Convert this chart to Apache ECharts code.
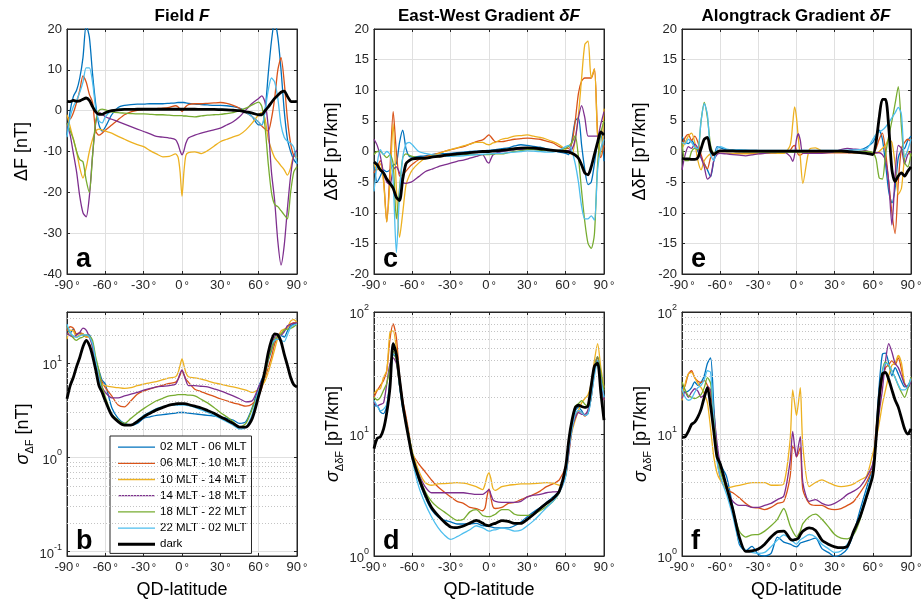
<!DOCTYPE html>
<html><head><meta charset="utf-8">
<script src="https://cdn.jsdelivr.net/npm/echarts@6/dist/echarts.min.js"></script>
<style>html,body{margin:0;padding:0;background:#fff}#c{width:923px;height:602px}</style>
</head><body><div id="c"></div>
<script>
// ---------- shared x values (QD-latitude, degrees) ----------
const LAT = [-90,-87.5,-85,-82.5,-80,-77.5,-75,-72.5,-70,-67.5,-65,-62.5,-60,
 -55,-50,-45,-40,-35,-30,-25,-20,-15,-10,-5,
 -3,-1.5,0,1.5,3,
 5,10,15,20,25,30,35,40,45,50,55,
 60,62.5,65,67.5,70,72.5,75,77.5,80,82.5,85,87.5,90];

const NAMES = ['02 MLT - 06 MLT','06 MLT - 10 MLT','10 MLT - 14 MLT','14 MLT - 18 MLT','18 MLT - 22 MLT','22 MLT - 02 MLT','dark'];
const X_TICKS = [-90,-60,-30,0,30,60,90];

// ---------- panel a: Delta F [nT] ----------
const a_0206 = [-6,0,3.5,5,8,13,21,18,9,1.5,-3.5,-5,-4, -1,0.8,1.3,1.5,1.6,1.6,1.7,1.7,1.7,1.8,1.9, 2.0,2.0,2.0,2.0,1.9, 1.8,1.6,1.5,1.4,1.3,1.3,1.2,1.0,0.6,-0.2,-1.5, -3.5,-3.5,0,9,17,22,18,10,0,-7,-10,-12,-13];
const a_0610 = [-1.5,-2,-0.5,2,5,8.5,7,4,2,-5,-6,-5.5,-4.8, -3.5,-2.2,-1,-0.3,0.1,0.3,0.4,0.5,0.6,0.8,1.2, 0.9,0.3,-0.2,0.4,1.0, 1.5,1.7,1.7,1.8,1.9,2.0,1.8,1.3,0.6,-0.5,-1.5, -2.8,-3.8,-4.5,-5,-2,3,10,13,7,-2,-8,-11,-11.5];
const a_1014 = [-1,-4,-7,-10,-14,-16.5,-14,-10,-7,-5,-4.5,-4.7,-5, -5.5,-6.3,-7,-7.7,-8.3,-8.8,-9.8,-10.6,-11.3,-11.2,-10.6, -11.5,-15,-21,-15,-11, -10.3,-10.1,-10.5,-9.8,-8.7,-7.6,-7,-6.4,-5.9,-4.7,-3, -1,-0.5,-2,-7,-9.5,-11.5,-12.5,-13.5,-14.5,-15.8,-14,-11,-11.5];
const a_1418 = [-3,-6,-10.5,-15,-21,-25,-26,-21,-11,-3,-0.5,-0.8,-1.5, -2.1,-2.7,-3.3,-3.9,-4.5,-5.1,-5.7,-6.3,-6.5,-6.7,-7.1, -8.3,-9.8,-10.8,-9.8,-8, -6.7,-6,-5.5,-5.1,-4.7,-4.3,-3.5,-2.7,-1.5,0.2,1.8, 3,3.6,2,-4,-15,-22,-32,-37.8,-33,-24,-16,-11,-9.6];
const a_1822 = [-3,-5,-7,-10,-12,-12.5,-17,-20,-11,-2.5,0,0.4,0.2, -0.3,-0.5,-0.6,-0.7,-0.8,-0.8,-0.9,-1,-1,-1.1,-1.2, -1.2,-1.2,-1.2,-1.3,-1.3, -1.4,-1.5,-1.3,-1.1,-1,-0.9,-0.7,-0.5,0,0.6,1.4, 2.1,1,-4,-13,-20,-23,-23.5,-24.5,-25.5,-26.5,-20,-15,-13.7];
const a_2202 = [-6.5,-1.5,1,2.5,4.5,7,10.5,10.5,7,0.5,-2.5,-3,-1.5, 0,0.4,0.5,0.5,0.5,0.5,0.5,0.5,0.5,0.5,0.5, 0.5,0.5,0.5,0.5,0.5, 0.5,0.5,0.5,0.5,0.4,0.4,0.3,0.2,0,-0.5,-1.5, -2.8,-3.5,0,5,8,7,3,-3.5,-6.5,-7.5,-8,-9,-13];
const a_dark = [2.3,2.2,2.5,2.3,2.4,2.8,3.1,2.5,1,-0.3,-0.9,-0.9,-0.5, 0,0.2,0.3,0.3,0.35,0.35,0.35,0.35,0.35,0.35,0.35, 0.35,0.35,0.35,0.35,0.35, 0.35,0.35,0.3,0.3,0.3,0.25,0.2,0.1,0,-0.3,-0.6, -1,-1,0,0.9,2,3,3.8,4.5,4.8,3.5,2.3,2.2,2.3];

// ---------- panel b: sigma Delta F [nT] (log) ----------
const b_0206 = [23,21,23,20,21,20,19.5,20,16,10.7,8.4,6.6,6, 3.4,2.6,2.3,2.2,2.3,2.6,2.7,2.8,2.85,2.9,2.95, 3.0,3.0,3.0,3.0,2.98, 2.95,2.9,2.85,2.8,2.75,2.7,2.6,2.5,2.3,2.4,3.4, 5.6,6.8,8,10.7,13.6,17.4,19,19.6,19,22,25,26,27];
const b_0610 = [22,24.4,23.5,20.5,21,20.5,19,19.5,15,9.1,7.5,6.3,5.5, 4.5,3.6,3.45,4.0,4.7,5.1,5.35,5.6,5.85,6.1,6.3, 6.8,7.5,8.3,7.6,6.8, 6.3,5.3,5.0,4.7,4.45,4.2,4.0,3.8,3.65,3.5,3.7, 4.5,5.5,7,9,11.6,16,19,20.5,22,24,26,27,26.5];
const b_1014 = [18,22.5,22,19,20,20.5,19,19,15,10,7.1,6,5.8, 5.6,5.5,5.4,5.5,5.8,6.0,6.2,6.4,6.7,7,7.2, 8,9.5,11.1,9.5,8, 7.2,7,6.8,6.5,6.2,6,5.8,5.6,5.4,5.2,4.9, 5.3,5.8,6.5,8,10.5,14,18.5,22,23,24,28,29,27];
const b_1418 = [21,19.6,19,20,21.3,23.6,22.5,19,15,10,7.1,5.6,4.9, 4.3,4.3,4.5,4.7,4.9,5.2,5.4,5.6,5.7,5.8,6, 6.8,7.8,8.5,7.6,6.6, 5.8,5.8,5.7,5.6,5.35,5.1,4.8,4.5,4.2,3.9,4.0, 5.6,6.5,8,11,15,19,20.5,20,21.5,25,26,26.5,27];
const b_1822 = [25,21,18.5,17.5,18.5,19,20,19.5,17.5,11.6,8.4,5.6,4.4, 2.9,2.5,2.3,2.6,2.95,3.3,3.65,4.0,4.25,4.5,4.6, 4.65,4.65,4.65,4.65,4.63, 4.6,4.5,4.15,3.8,3.4,3.0,2.7,2.4,2.1,2.3,3.3, 5,6,7.5,11,14,18,19.6,20.5,22.5,23,23.5,24.5,26];
const b_2202 = [26,21,19.5,18.8,19.5,20,20,19,16,10.5,7,4.8,4.0, 2.9,2.4,2.2,2.2,2.45,2.8,3.05,3.3,3.45,3.6,3.6, 3.6,3.6,3.6,3.6,3.58, 3.55,3.4,3.2,3.0,2.8,2.6,2.4,2.2,2.0,2.1,2.9, 5.1,6,8.5,13,16,17.5,18,17.5,17,20,24,25.5,26];
const b_dark = [4.2,5.8,7.1,9.2,11.5,15,17.5,15.5,12,8.5,5.8,4.9,4, 2.8,2.4,2.2,2.2,2.4,2.7,2.95,3.2,3.4,3.6,3.7, 3.72,3.73,3.73,3.72,3.7, 3.65,3.5,3.35,3.15,2.95,2.7,2.5,2.3,2.1,2.1,2.6, 4.5,6,8.5,13,17.5,20.5,20,17,12.5,9.5,7.1,5.9,5.6];

// ---------- panel c: East-West gradient [pT/km] ----------
const c_0206 = [-2,-5,-4,-3,-3.3,-3,-2.2,-2,1.5,3.5,0.5,-0.8,-0.9, -0.8,-0.7,-0.5,-0.4,-0.35,-0.3,-0.2,-0.1,0,0.05,0.1, 0.15,0.18,0.2,0.22,0.25, 0.3,0.45,0.6,0.9,1.1,1.0,0.85,0.7,0.45,0.2,-0.1, -0.3,-0.5,2,5,5.5,1,-3,-5.4,-5,-2,1.5,2.7,-1.6];
const c_0610 = [-3.5,-2.5,-1.5,-4.5,-11.5,-3,6.5,0,-4,-3.8,-3.2,-2.6,-2.1, -1.3,-0.9,-0.6,-0.3,0,0.3,0.55,0.8,1.2,1.6,1.9, 2.2,2.5,2.7,2.4,2.0, 1.6,1.6,1.8,2,2.1,2.2,2.1,2,1.7,1.4,0.8, 0.5,0.5,1.5,5,9.5,11.5,12,12,12,13.5,3,-1,1];
const c_1014 = [-2,-3,-2,-5,-11.5,-5,4.5,-6,-14,-10,-5.5,-4,-3, -1.9,-1.1,-0.7,-0.4,0,0.3,0.6,0.9,1.2,1.5,1.5, 1.3,1.15,1.1,1.2,1.4, 1.5,2,2.2,2.5,2.6,2.7,2.5,2.3,2,1.6,1.1, 0.3,0,-0.5,2,6,12,17.5,18,12,13.5,2.5,-0.5,7];
const c_1418 = [2,1,-0.8,-3.5,-5,-5.4,-3,-2.5,-3.5,-5,-5.2,-5.1,-4.9, -4.1,-3.3,-2.9,-2.5,-2.2,-1.9,-1.6,-1.4,-1.1,-0.8,-0.5, -1.1,-1.7,-1.9,-1.2,-0.6, -0.3,0,0.15,0.3,0.35,0.4,0.35,0.3,0.2,0.15,0.1, 0,0.2,0.4,2,5.5,7.5,5.5,2.5,2.5,2.5,2.5,4.5,6.5];
const c_1822 = [-0.5,0,0,-0.5,-1,-0.5,-2,-11,-6,-1,-0.4,-0.6,-0.8, -1,-1.1,-0.95,-0.85,-0.75,-0.7,-0.6,-0.55,-0.5,-0.5,-0.5, -0.5,-0.5,-0.5,-0.48,-0.45, -0.4,-0.4,-0.2,0,0.15,0.3,0.3,0.2,0.15,0.1,0.2, 0.5,0.9,1.5,2.6,-1,-6.5,-11.5,-15,-15.8,-13.5,-2,3,5];
const c_2202 = [-6.5,-2,0.3,-0.5,0,-0.5,-5,-16.5,-7,-1,1.2,1.5,1.1, 0,-0.3,-0.5,-0.65,-0.75,-0.8,-0.75,-0.7,-0.6,-0.5,-0.45, -0.42,-0.4,-0.4,-0.38,-0.35, -0.3,-0.3,-0.2,-0.1,0,0.1,0.05,0,-0.1,-0.1,0.2, 0.8,1,0,-2,-5,-9,-11,-11,-10.5,-11.2,-3,0.5,2];
const c_dark = [-1.7,-2.2,-3,-3.5,-4.5,-5.2,-6,-7.5,-8,-4.5,-2,-1.5,-1.2, -1.1,-1.1,-0.9,-0.8,-0.65,-0.5,-0.4,-0.3,-0.2,-0.1,0, 0,0,0,0.03,0.06, 0.1,0.2,0.3,0.45,0.55,0.6,0.55,0.45,0.3,0.2,0.1, 0,-0.1,-0.3,-0.6,-1.1,-2.2,-3.5,-3.8,-2.5,-0.5,1.5,3.2,2.7];

// ---------- panel d: sigma East-West gradient [pT/km] (log) ----------
const d_0206 = [17,17,15.2,14.7,17,28,45,42,25,16.5,13,9.5,6.5, 4.2,3.05,2.4,2.1,1.97,1.9,1.83,1.83,1.83,1.85,1.77, 1.76,1.75,1.75,1.73,1.72, 1.7,1.7,1.7,1.77,1.9,2.1,2.3,2.5,2.75,3.05,3.4, 4.8,7.5,12,15.5,16.5,15.5,14.2,14.7,20,33,40,28,20];
const d_0610 = [20,22.8,25,27.5,33,60,80,62,30,19,14,10,6.9, 5.7,4.9,4.2,3.7,3.35,3.05,2.8,2.7,2.5,2.45,2.35, 2.5,3.1,3.55,3.0,2.55, 2.45,2.5,2.7,2.75,2.9,3.05,3.2,3.4,3.7,3.9,4.2, 5.5,9,12,14.2,15.5,15,14,15.5,20,32,42,28,19];
const d_1014 = [21.4,23,23.5,29.3,33,68,70,50,28,17,13,9.5,7.2, 5.0,4.0,3.8,3.9,3.92,3.95,4.0,3.95,3.85,3.7,3.5, 3.9,4.5,4.8,4.3,3.6, 3.45,3.7,3.8,3.85,3.9,3.9,3.92,3.95,4.0,3.95,3.8, 4.5,7,10.5,13,15.6,18,19.5,21,26,40,55,35,24];
const d_1418 = [18.3,17,17.5,18,25.8,37.7,42,38,25,17,13,9.5,6.5, 4.7,3.7,3.3,3.3,3.3,3.3,3.3,3.3,3.25,3.2,3.2, 3.3,3.4,3.5,3.2,2.9, 2.8,2.75,2.75,2.75,2.8,3.05,3.15,3.2,3.3,3.35,3.4, 4.6,7,11,13.5,15,14.5,14.5,15.8,23,35,43,28,18.9];
const d_1822 = [20,19,20,22.8,26,35,48,40,25,17,13,9.6,7, 4.6,3.4,2.8,2.5,2.3,2.1,1.96,2.0,2.3,2.4,2.15, 2.12,2.1,2.1,2.11,2.15, 2.2,2.4,2.4,2.2,2.15,2.15,2.2,2.35,2.55,2.8,3.3, 5,9,13,17,17.7,18.8,17.5,16.8,24,35,43,32,22.8];
const d_2202 = [18.9,17,15.5,16,17.5,25,45,45,25,16,12.2,8.8,6.1, 3.7,2.7,2.1,1.72,1.49,1.37,1.44,1.54,1.64,1.77,1.7, 1.66,1.62,1.6,1.61,1.63, 1.64,1.7,1.66,1.6,1.63,1.77,1.95,2.2,2.5,2.8,3.3, 4.5,7.5,11,14.5,15.6,15,14.2,14.7,20,30,40,28,20];
const d_dark = [7.6,9.2,9.5,11,15,24,55,45,28,17.5,12.2,8.8,6.5, 4.4,3.2,2.5,2.15,1.9,1.73,1.71,1.76,1.86,1.96,1.86, 1.8,1.78,1.77,1.8,1.83, 1.85,1.95,1.92,1.85,1.85,2.0,2.2,2.45,2.7,2.95,3.4, 5.4,9,13,16.5,17.2,16.8,16.5,17,25,36,38,22,13];

// ---------- panel e: Alongtrack gradient [pT/km] ----------
const e_0206 = [2.4,1.6,1.3,1.8,1,0,-1,-2,-3,-4.1,-1.5,0.8,0.6, 0.3,0.2,0.2,0.2,0.2,0.15,0.1,0.1,0.05,0,0, -0.05,-0.1,-0.1,-0.05,0, 0,0.05,0.1,0.1,0.1,0.1,0.15,0.2,0.3,0.3,0.7, 1.5,2.5,3.5,2,-2,-6.5,-8.4,-6,-1,0.2,0.5,1.8,2.5];
const e_0610 = [1,2.3,2.8,1.8,2.5,1.5,-0.5,-2,-2.8,-1,-0.5,-0.3,-0.3, -0.3,-0.3,-0.3,-0.3,-0.3,-0.3,-0.25,-0.2,-0.2,-0.1,0.2, 0.8,1.0,0.2,-0.5,-0.6, -0.3,-0.2,-0.2,-0.2,-0.2,-0.2,-0.2,-0.2,-0.2,-0.25,-0.3, -0.3,0.5,2,3,0,-5,-10,-13.4,-5,0.5,1.5,2,1.6];
const e_1014 = [0.5,1.5,2.5,3,1.5,-1.5,-3,-1.5,-0.8,-0.4,-0.3,-0.3,-0.3, -0.3,-0.35,-0.4,-0.4,-0.4,-0.35,-0.3,-0.3,-0.3,-0.3,1, 4.5,7.3,5.5,2,-1, -5.2,0.3,0.6,0.1,0,-0.1,-0.1,-0.1,-0.2,-0.2,-0.2, -0.3,-0.3,0,0.5,1,2,1.5,-2,-7,-6,-1,0,-0.8];
const e_1418 = [-3,-0.5,0.8,0.5,1.2,0.5,-1,-2.5,-4.5,-4,-1.5,-0.5,-0.3, -0.4,-0.5,-0.6,-0.7,-0.55,-0.4,-0.3,-0.2,-0.15,-0.1,-0.8, -1.6,-0.5,2,2.9,1.8, -0.3,-0.3,-0.3,-0.3,-0.2,0,0.3,0.5,0.4,0.3,0.1, -0.2,-0.2,-0.2,-0.5,-1.5,-5,-12,-4,1,0.5,-2,-0.5,0];
const e_1822 = [1.4,-1.5,-1.5,0,0.5,0.3,5,8,5.5,1,-0.3,0.1,0.1, 0,0,-0.05,-0.1,-0.1,-0.1,-0.1,-0.1,-0.1,-0.1,-0.1, -0.1,-0.1,-0.1,-0.1,-0.1, -0.1,-0.05,0,0,0,0,0,0,0,0,0, -0.2,-1.2,-4.3,-4.5,-0.5,2.5,5,7.8,10.6,4,-1.8,-2.5,-0.3];
const e_2202 = [1.5,1.2,2,1.5,0.7,0.5,5,7.8,6,-0.5,-1.5,0.3,0.8, 0.4,0.3,0.3,0.25,0.2,0.2,0.2,0.2,0.2,0.2,0.2, 0.2,0.2,0.2,0.2,0.2, 0.2,0.2,0.2,0.2,0.2,0.2,0.2,0.2,0.25,0.3,0.4, 2,2.8,3.2,3.5,4,4.7,5.5,6.3,7.2,6,-1,0.3,2];
const e_dark = [-1.1,-1.2,-1.2,-1.3,-1.3,-1,0.5,2,2.3,0.2,-0.5,-0.1,0.1, 0.1,0.1,0.05,0.05,0.05,0.05,0.05,0.05,0.05,0.05,0.05, 0.05,0.05,0.05,0.05,0.05, 0.05,0.05,0.05,0.05,0.05,0.05,0.05,0,-0.1,-0.2,-0.3, -0.5,1.5,5.5,8.5,8.5,4,-3,-4.9,-4,-3.5,-4,-3.2,-2.5];

// ---------- panel f: sigma Alongtrack gradient [pT/km] (log) ----------
const f_0206 = [24.3,22,22.5,24,26.7,25,26.5,30,38,42,17,7.5,5.7, 4.5,2.5,1.25,1.1,1.2,1.03,1.0,1.05,1.43,1.3,1.25, 1.22,1.2,1.19,1.22,1.28, 1.3,1.35,1.4,1.15,1.07,0.99,1.03,1.15,1.55,2.4,3.6, 5.5,10,25,45,46,38,30,35,31,27,24.3,25,27.5];
const f_0610 = [22,25,31,33,29,27,26.5,27.5,25,22,13,6.5,4.4, 3.5,3.3,3.0,2.7,2.5,2.48,2.4,2.5,2.7,2.8,4.5, 8,7.5,6.5,7,7.8, 3.5,2.7,2.6,2.6,2.45,2.4,2.45,2.6,2.8,3.3,4.0, 5.5,11,18,28,35,37,40,37,42,34,25.8,24,29];
const f_1014 = [18.9,25.8,31,32,29,26,24,21.4,18,11,6.5,4.8,4.2, 3.6,3.7,3.8,3.9,4.0,4.0,4.0,3.8,3.8,3.9,9, 23,18,14.2,18,24, 8,3.7,4.0,4.2,4.0,3.8,3.7,3.75,3.9,4.2,4.5, 6.9,9,12.2,17.5,23,30,36.6,38,44,38,26,24,28];
const f_1418 = [19.5,22,20,22,23.5,22.5,20,21,24.3,23,15,8.5,5.7, 3.6,2.8,2.6,2.6,2.5,2.5,2.6,2.7,2.9,3.1,6, 10.5,8,6.5,8,9.5, 4,2.8,2.9,2.7,2.6,2.7,2.9,3.2,3.4,3.7,4.4, 5.7,9,15,23,40,55,47,38,35,30,25.5,24,27];
const f_1822 = [26.7,23,20.5,20,19.5,20,21,24,29,26,14,7,5, 3.5,2.4,1.6,1.43,1.49,1.5,1.6,1.77,2.0,2.45,1.77, 1.6,1.5,1.43,1.5,1.6, 1.84,2.1,2.2,2.0,1.74,1.5,1.4,1.38,1.5,2.0,3.2, 4.5,9,20,33,39,36,33,29,25,22,20,23.5,29.3];
const f_2202 = [23.5,20,18.9,19.5,22,24,25,28,33,32,13,6,4.5, 3.2,2.1,1.3,1.12,1.07,1.05,1.07,1.19,1.35,1.49,1.38, 1.32,1.28,1.25,1.3,1.36, 1.4,1.5,1.43,1.25,1.15,1.07,1.1,1.25,1.55,2.2,3.3, 5,9.5,22,32,38,37,33,29,25.3,23,23,24.5,28.5];
const f_dark = [9.4,9.5,10.5,12,12.5,13.8,16,20,24,17,10.5,6.5,5.7, 3.7,2.4,1.43,1.09,1.1,1.14,1.25,1.43,1.58,1.6,1.38, 1.35,1.36,1.37,1.4,1.5, 1.6,1.7,1.62,1.35,1.25,1.19,1.17,1.2,1.6,2.1,3.05, 4.6,9,20,31,32,28,23,19,16.6,13.5,11,10,11];

// minor log grid positions
const MINOR_B = [0.2,0.3,0.4,0.5,0.6,0.7,0.8,0.9,2,3,4,5,6,7,8,9,20,30];
const MINOR_DF = [2,3,4,5,6,7,8,9,20,30,40,50,60,70,80,90];

// ---------- styling ----------
const FONT = '"Liberation Sans", Arial, Helvetica, sans-serif';
const INK = '#262626';
const GRIDC = '#e0e0e0';
const MINORC = '#c4c4c4';
const COLORS = ['#0072BD','#D95319','#EDB120','#7E2F8E','#77AC30','#4DBEEE','#000000'];
const WIDTHS = [1.3,1.3,1.3,1.3,1.3,1.3,2.8];

const PANELS = [
  {id:'a', left:67, top:29, width:230, height:245, log:false, min:-40, max:20, interval:10,
   yname:'ΔF [nT]', nameGap:36, series:[a_0206,a_0610,a_1014,a_1418,a_1822,a_2202,a_dark]},
  {id:'c', left:374, top:29, width:230, height:245, log:false, min:-20, max:20, interval:5,
   yname:'ΔδF [pT/km]', nameGap:33, series:[c_0206,c_0610,c_1014,c_1418,c_1822,c_2202,c_dark]},
  {id:'e', left:682, top:29, width:229, height:245, log:false, min:-20, max:20, interval:5,
   yname:'ΔδF [pT/km]', nameGap:33, series:[e_0206,e_0610,e_1014,e_1418,e_1822,e_2202,e_dark]},
  {id:'b', left:67, top:312, width:230, height:244, log:true, min:0.09, max:35, minor:MINOR_B, bottom:true,
   yname:'{s|σ}{sub|ΔF}{m| [nT]}', nameGap:30, series:[b_0206,b_0610,b_1014,b_1418,b_1822,b_2202,b_dark]},
  {id:'d', left:374, top:312, width:230, height:244, log:true, min:1, max:100, minor:MINOR_DF, bottom:true,
   yname:'{s|σ}{sub|ΔδF}{m| [pT/km]}', nameGap:28, series:[d_0206,d_0610,d_1014,d_1418,d_1822,d_2202,d_dark]},
  {id:'f', left:682, top:312, width:229, height:244, log:true, min:1, max:100, minor:MINOR_DF, bottom:true,
   yname:'{s|σ}{sub|ΔδF}{m| [pT/km]}', nameGap:28, series:[f_0206,f_0610,f_1014,f_1418,f_1822,f_2202,f_dark]}
];

function logLabel(v){
  const e = Math.round(Math.log10(v));
  if (Math.abs(v/Math.pow(10,e) - 1) > 1e-6) return '';
  return '{b|10}{e|' + e + '}';
}
const nameRich = {
  s:{fontSize:18, fontStyle:'italic', fontFamily:FONT, color:'#000', lineHeight:26, verticalAlign:'middle'},
  sub:{fontSize:11, fontFamily:FONT, color:'#000', lineHeight:12, verticalAlign:'bottom'},
  m:{fontSize:18, fontFamily:FONT, color:'#000', lineHeight:26, verticalAlign:'middle'}
};

const grids=[], xAxes=[], yAxes=[], series=[], graphics=[];
PANELS.forEach((p,i)=>{
  grids.push({left:p.left, top:p.top, width:p.width, height:p.height, show:true,
    borderColor:INK, borderWidth:1, backgroundColor:'#fff', containLabel:false, outerBoundsMode:'none'});
  xAxes.push({gridIndex:i, type:'value', min:-90, max:90, interval:30, position:'bottom',
    name: p.bottom ? 'QD-latitude' : '', nameLocation:'middle', nameGap:25,
    nameTextStyle:{fontSize:18, color:'#000', fontFamily:FONT},
    axisLine:{show:true, onZero:false, lineStyle:{color:INK, width:1}},
    axisTick:{show:true, inside:true, length:3, lineStyle:{color:INK}},
    axisLabel:{margin:5, color:INK, fontFamily:FONT,
      formatter:v=>'{n|'+v+'}{d|°}',
      rich:{n:{fontSize:13, fontFamily:FONT, color:INK}, d:{fontSize:11, fontFamily:FONT, color:INK, padding:[0,0,0,2]}}},
    splitLine:{show:true, lineStyle:{color:GRIDC, width:1}}});
  xAxes.push({gridIndex:i, type:'value', min:-90, max:90, interval:30, position:'top',
    axisLine:{show:true, onZero:false, lineStyle:{color:INK}},
    axisTick:{show:true, inside:true, length:3, lineStyle:{color:INK}},
    axisLabel:{show:false}, splitLine:{show:false}});
  const yBase = p.log
    ? {type:'log', logBase:10, min:p.min, max:p.max}
    : {type:'value', min:p.min, max:p.max, interval:p.interval};
  yAxes.push(Object.assign({gridIndex:i, position:'left',
    name:p.yname, nameLocation:'middle', nameGap:p.nameGap, nameRotate:90,
    nameTextStyle:{fontSize:18, color:'#000', fontFamily:FONT, rich:nameRich},
    axisLine:{show:true, onZero:false, lineStyle:{color:INK, width:1}},
    axisTick:{show:true, inside:true, length:3, lineStyle:{color:INK}},
    axisLabel: p.log
      ? {margin:5, formatter:logLabel, rich:{
          b:{fontSize:13, fontFamily:FONT, color:INK, lineHeight:18, verticalAlign:'bottom'},
          e:{fontSize:9, fontFamily:FONT, color:INK, lineHeight:18, verticalAlign:'top'}}}
      : {margin:5, fontSize:13, color:INK, fontFamily:FONT},
    splitLine:{show:true, lineStyle:{color:GRIDC, width:1}}}, yBase));
  yAxes.push(Object.assign({gridIndex:i, position:'right',
    axisLine:{show:true, onZero:false, lineStyle:{color:INK}},
    axisTick:{show:true, inside:true, length:3, lineStyle:{color:INK}},
    axisLabel:{show:false}, splitLine:{show:false}}, yBase));

  if (p.log) {
    series.push({type:'line', name:'minor-'+p.id, xAxisIndex:2*i, yAxisIndex:2*i, data:[], z:1,
      silent:true, animation:false,
      markLine:{silent:true, symbol:['none','none'], label:{show:false}, animation:false,
        lineStyle:{color:MINORC, type:[1,2], width:1},
        emphasis:{disabled:true},
        data:p.minor.map(v=>({yAxis:v}))}});
  }
  p.series.forEach((arr,j)=>{
    series.push({type:'line', name:NAMES[j], xAxisIndex:2*i, yAxisIndex:2*i,
      data:LAT.map((x,k)=>[x,arr[k]]), symbol:'none', showSymbol:false, smooth:0.25,
      z:2+j, clip:true, animation:false,
      lineStyle:{color:COLORS[j], width:WIDTHS[j]}, itemStyle:{color:COLORS[j]},
      emphasis:{disabled:true}});
  });
  graphics.push({type:'text', x:p.left+9, y:p.top+p.height-1, z:100,
    style:{text:p.id, font:'bold 27px '+FONT, fill:'#000', verticalAlign:'bottom', align:'left'}});
});

const titleRich = {
  b:{fontSize:17, fontWeight:'bold', fontFamily:FONT, color:'#000'},
  bi:{fontSize:17, fontWeight:'bold', fontStyle:'italic', fontFamily:FONT, color:'#000'},
  d:{fontSize:17, fontStyle:'italic', fontFamily:FONT, color:'#000'}
};
// legend sample strokes: thin for MLT sectors, thick for "dark"
const legendData = NAMES.map((n,j)=>({name:n,
  icon: j===6 ? 'path://M0,0H37V3H0Z' : 'path://M0,0H37V1.3H0Z'}));
const option = {
  animation:false,
  backgroundColor:'#fff',
  title:[
    {text:'{b|Field }{bi|F}', left:182, top:8, textAlign:'center', padding:0, textStyle:{rich:titleRich}},
    {text:'{b|East-West Gradient }{d|δ}{bi|F}', left:489, top:8, textAlign:'center', padding:0, textStyle:{rich:titleRich}},
    {text:'{b|Alongtrack Gradient }{d|δ}{bi|F}', left:796, top:8, textAlign:'center', padding:0, textStyle:{rich:titleRich}}
  ],
  legend:{data:legendData, orient:'vertical', left:110, top:436, itemWidth:37, itemHeight:12, itemGap:0,
    symbolKeepAspect:true,
    padding:[3,5,1,8], backgroundColor:'#fff', borderColor:INK, borderWidth:1, borderRadius:0,
    selectedMode:false,
    textStyle:{fontSize:11.5, lineHeight:16.2, color:'#000', fontFamily:FONT}},
  grid:grids, xAxis:xAxes, yAxis:yAxes, series:series, graphic:graphics
};
const chart = echarts.init(document.getElementById('c'), null, {renderer:'canvas'});
chart.setOption(option);
</script></body></html>
